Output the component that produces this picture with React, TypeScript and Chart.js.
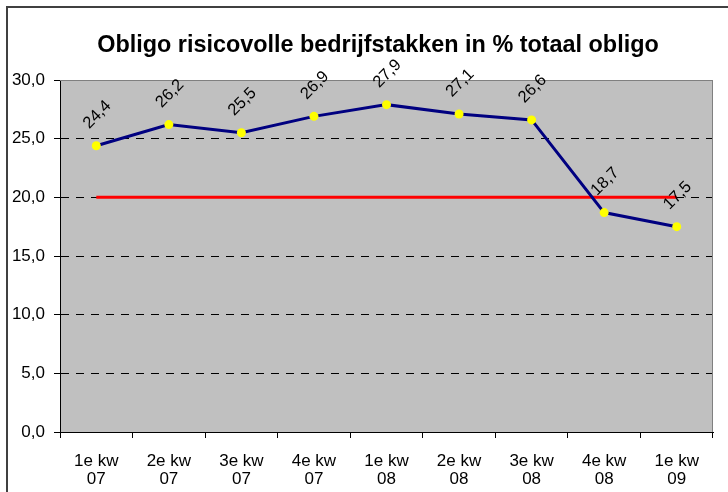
import React, { useEffect, useRef } from "react";
import { Chart, registerables } from "chart.js";

Chart.register(...registerables);

const FONT = "'Liberation Sans', Arial, Helvetica, sans-serif";

const TITLE = "Obligo risicovolle bedrijfstakken in % totaal obligo";
const categories: string[][] = [
  ["1e kw", "07"],
  ["2e kw", "07"],
  ["3e kw", "07"],
  ["4e kw", "07"],
  ["1e kw", "08"],
  ["2e kw", "08"],
  ["3e kw", "08"],
  ["4e kw", "08"],
  ["1e kw", "09"],
];
const obligoValues: number[] = [24.4, 26.2, 25.5, 26.9, 27.9, 27.1, 26.6, 18.7, 17.5];
const normValues: number[] = [20, 20, 20, 20, 20, 20, 20, 20, 20];
const yMin = 0;
const yMax = 30;
const yStep = 5;

const fmt = (v: number) => v.toFixed(1).replace(".", ",");

const decorPlugin = {
  id: "decor",
  beforeDraw(chart: any) {
    const { ctx, chartArea } = chart;
    const { left, top, right, bottom } = chartArea;
    ctx.save();
    // outer chart border (continues beyond the picture)
    ctx.fillStyle = "#404040";
    ctx.fillRect(6, 6, 2, 600);
    ctx.fillRect(6, 6, 900, 2);
    // plot area background
    ctx.fillStyle = "#C0C0C0";
    ctx.fillRect(left, top, right - left, bottom - top);
    // title
    ctx.fillStyle = "#000";
    ctx.font = `bold 23.4px ${FONT}`;
    ctx.textAlign = "center";
    ctx.textBaseline = "alphabetic";
    ctx.fillText(TITLE, 378, 52);
    ctx.restore();
  },
  beforeDatasetsDraw(chart: any) {
    const { ctx, chartArea } = chart;
    const { left, top, right, bottom } = chartArea;
    ctx.save();
    ctx.strokeStyle = "#808080";
    ctx.lineWidth = 1;
    ctx.beginPath();
    ctx.moveTo(left, top + 0.5);
    ctx.lineTo(right - 0.5, top + 0.5);
    ctx.lineTo(right - 0.5, bottom);
    ctx.stroke();
    ctx.restore();
  },
  afterDatasetsDraw(chart: any) {
    const { ctx } = chart;
    const meta = chart.getDatasetMeta(0);
    ctx.save();
    ctx.fillStyle = "#000";
    ctx.font = `16.5px ${FONT}`;
    ctx.textAlign = "center";
    ctx.textBaseline = "middle";
    meta.data.forEach((pt: any, i: number) => {
      ctx.save();
      ctx.translate(pt.x + 1, pt.y - 31);
      ctx.rotate(-Math.PI / 4);
      ctx.fillText(fmt(obligoValues[i]), 0, 0);
      ctx.restore();
    });
    ctx.restore();
  },
};

export default function App() {
  const ref = useRef<HTMLCanvasElement | null>(null);

  useEffect(() => {
    if (!ref.current) return;
    const chart = new Chart(ref.current, {
      type: "line",
      data: {
        labels: categories,
        datasets: [
          {
            label: "Obligo",
            data: obligoValues,
            borderColor: "#000080",
            borderWidth: 3,
            backgroundColor: "#FFFF00",
            pointBackgroundColor: "#FFFF00",
            pointBorderColor: "#FFFF00",
            pointBorderWidth: 0,
            pointRadius: 4.5,
            tension: 0,
            fill: false,
          },
          {
            label: "Norm",
            data: normValues,
            borderColor: "#FF0000",
            borderWidth: 3,
            pointRadius: 0,
            tension: 0,
            fill: false,
          },
        ],
      },
      options: {
        responsive: false,
        maintainAspectRatio: false,
        animation: false,
        layout: { padding: { left: 0, right: 15, top: 80, bottom: 0 } },
        plugins: {
          legend: { display: false },
          title: { display: false },
          tooltip: { enabled: false },
        },
        scales: {
          x: {
            type: "category",
            offset: true,
            grid: {
              offset: true,
              drawOnChartArea: false,
              drawTicks: true,
              tickLength: 6,
              tickColor: "#000",
              color: "#000",
            },
            border: { display: true, color: "#000", width: 1 },
            ticks: {
              color: "#000",
              font: { family: FONT, size: 17, lineHeight: 1.06 },
              padding: 14,
              maxRotation: 0,
              minRotation: 0,
              autoSkip: false,
            },
            afterFit(scale: any) {
              scale.height = 60;
            },
          },
          y: {
            min: yMin,
            max: yMax,
            grid: {
              color: (c: any) => (c.tick && c.tick.value === yMax ? "#808080" : "#000"),
              lineWidth: 1,
              drawTicks: true,
              tickLength: 6,
              tickColor: "#000",
            },
            border: { display: true, color: "#000", width: 1, dash: [8, 7] },
            ticks: {
              stepSize: yStep,
              color: "#000",
              font: { family: FONT, size: 17 },
              padding: 9,
              callback: (v: any) => fmt(Number(v)),
            },
            afterFit(scale: any) {
              scale.width = 60;
            },
          },
        },
      },
      plugins: [decorPlugin],
    });
    return () => chart.destroy();
  }, []);

  return (
    <div style={{ position: "fixed", left: 0, top: 0, width: 728, height: 492, background: "#fff" }}>
      <canvas ref={ref} width={728} height={492} style={{ display: "block" }} />
    </div>
  );
}
